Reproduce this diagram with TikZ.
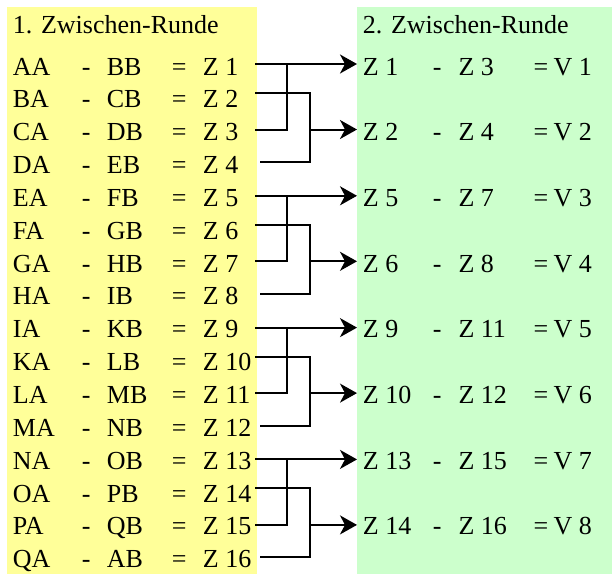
\documentclass[tikz,border=0pt]{standalone}
\usepackage{fontspec}
\setmainfont{Liberation Serif}
\usetikzlibrary{arrows.meta}
\definecolor{panelyellow}{RGB}{255,255,153}
\definecolor{panelgreen}{RGB}{204,255,204}
\begin{document}
\begin{tikzpicture}[x=1pt,y=-1pt,
  txt/.style={anchor=base west,inner sep=0pt,font=\fontsize{26}{30}\selectfont},
  conn/.style={line width=2pt},
  arr/.style={conn,-{Stealth[length=17pt,width=19pt,inset=5pt]}}]
\useasboundingbox (0,0) rectangle (612,574);
\fill[panelyellow] (7,7) rectangle (257,574);
\fill[panelgreen] (357.3,7) rectangle (612,574);
\node[txt] (t1) at (12.7,33) {1. Zwischen-Runde};
\node[txt] (t2) at (362.7,33) {2. Zwischen-Runde};
% left rows
\foreach \a/\b [count=\i from 0] in {AA/BB,BA/CB,CA/DB,DA/EB,EA/FB,FA/GB,GA/HB,HA/IB,IA/KB,KA/LB,LA/MB,MA/NB,NA/OB,OA/PB,PA/QB,QA/AB}{
  \pgfmathsetmacro\yb{75+32.85*\i}
  \pgfmathtruncatemacro\n{\i+1}
  \node[txt] (la\i) at (12.7,\yb) {\a};
  \node[txt] (lm\i) at (81.7,\yb) {-};
  \node[txt] (lb\i) at (106.7,\yb) {\b};
  \node[txt] (le\i) at (171.7,\yb) {=};
  \node[txt] (lz\i) at (202.7,\yb) {Z \n};
}
% right rows
\foreach \p/\q/\v [count=\j from 0] in {1/3/1,2/4/2,5/7/3,6/8/4,9/11/5,10/12/6,13/15/7,14/16/8}{
  \pgfmathsetmacro\yb{75+65.7*\j}
  \node[txt] (rp\j) at (362.7,\yb) {Z \p};
  \node[txt] (rm\j) at (432.7,\yb) {-};
  \node[txt] (rq\j) at (458.3,\yb) {Z \q};
  \node[txt] (re\j) at (533.3,\yb) {=};
  \node[txt] (rv\j) at (553.3,\yb) {V \v};
}
% connectors
\foreach \k in {0,1,2,3}{
  \pgfmathsetmacro\b{64+131.8*\k}
  \coordinate (s0-\k) at (255,\b);
  \coordinate (s1-\k) at (255,\b+29);
  \coordinate (s2-\k) at (255,\b+65.5);
  \coordinate (s3-\k) at (260,\b+98);
  \coordinate (ja-\k) at (286.7,\b);
  \coordinate (jb-\k) at (286.7,\b+65.5);
  \coordinate (ma-\k) at (310,\b+29);
  \coordinate (mb-\k) at (310,\b+98);
  \coordinate (mc-\k) at (310,\b+65.5);
  \coordinate (ea-\k) at (357,\b);
  \coordinate (eb-\k) at (357,\b+65.5);
  \draw[arr] (s0-\k) -- (ea-\k);
  \draw[conn] (s2-\k) -- (jb-\k) -- (ja-\k);
  \draw[conn] (s1-\k) -- (ma-\k) -- (mb-\k) -- (s3-\k);
  \draw[arr] (mc-\k) -- (eb-\k);
}
\end{tikzpicture}
\end{document}
